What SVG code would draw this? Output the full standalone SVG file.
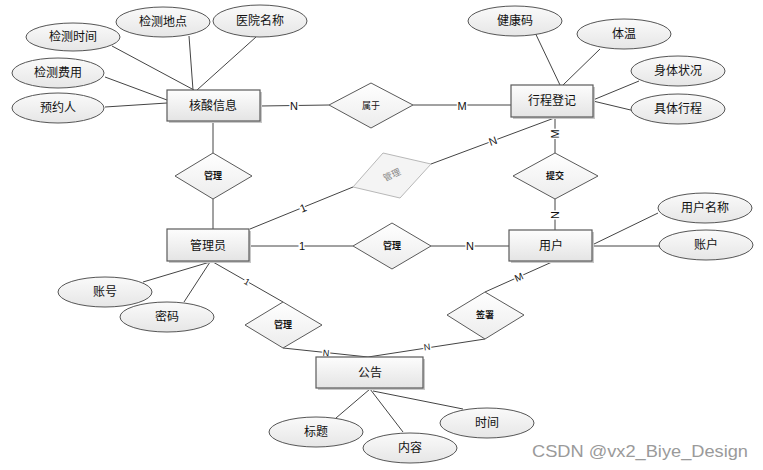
<svg xmlns="http://www.w3.org/2000/svg" width="763" height="470" viewBox="0 0 763 470">
<defs>
<linearGradient id="gr" x1="0" y1="0" x2="0" y2="1"><stop offset="0" stop-color="#fdfdfd"/><stop offset="1" stop-color="#e4e4e4"/></linearGradient>
<linearGradient id="ge" x1="0" y1="0" x2="0" y2="1"><stop offset="0" stop-color="#fafafa"/><stop offset="1" stop-color="#e6e6e6"/></linearGradient>
<linearGradient id="gd" x1="0" y1="0" x2="0" y2="1"><stop offset="0" stop-color="#ffffff"/><stop offset="1" stop-color="#ececec"/></linearGradient>
</defs>
<style>
.ent rect.b{fill:url(#gr);stroke:#5a5a5a;stroke-width:1.2}
.ent rect.s{fill:#c8c8c8;stroke:none}
.att ellipse{fill:url(#ge);stroke:#555;stroke-width:1}
.rel polygon{fill:url(#gd);stroke:#5a5a5a;stroke-width:1}
text{font-family:"Liberation Sans","Noto Sans CJK SC",sans-serif;fill:#111;text-anchor:middle;dominant-baseline:central}
.t{font-size:12px}
.r{font-size:9px;font-weight:bold}
.c{font-size:11px;paint-order:stroke;stroke:#fff;stroke-width:3px}
.lines line{stroke:#444;stroke-width:1}
</style>
<g id="connectors" class="lines">
<line x1="112" y1="46" x2="194" y2="90"/>
<line x1="189" y1="36" x2="193" y2="90"/>
<line x1="256" y1="37" x2="197" y2="90"/>
<line x1="105" y1="77" x2="167" y2="100"/>
<line x1="105" y1="107" x2="167" y2="103"/>
<line x1="260" y1="106" x2="329" y2="105"/>
<line x1="413" y1="105" x2="511" y2="105"/>
<line x1="213" y1="122" x2="213" y2="153"/>
<line x1="213" y1="199" x2="213" y2="229"/>
<line x1="250" y1="229" x2="353" y2="187"/>
<line x1="431" y1="164" x2="557" y2="117"/>
<line x1="555" y1="117" x2="555" y2="153"/>
<line x1="555" y1="199" x2="555" y2="230"/>
<line x1="249" y1="246" x2="353" y2="246"/>
<line x1="431" y1="246" x2="509" y2="246"/>
<line x1="592" y1="245" x2="658" y2="213"/>
<line x1="592" y1="246" x2="660" y2="246"/>
<line x1="552" y1="262" x2="485" y2="292"/>
<line x1="485" y1="339" x2="368" y2="357"/>
<line x1="213" y1="262" x2="283" y2="302"/>
<line x1="283" y1="348" x2="368" y2="357"/>
<line x1="210" y1="262" x2="143" y2="282"/>
<line x1="210" y1="262" x2="184" y2="302"/>
<line x1="530" y1="22" x2="560" y2="85"/>
<line x1="600" y1="49" x2="563" y2="85"/>
<line x1="639" y1="81" x2="593" y2="100"/>
<line x1="639" y1="112" x2="593" y2="101"/>
<line x1="370" y1="389" x2="336" y2="418"/>
<line x1="370" y1="389" x2="403" y2="432"/>
<line x1="373" y1="391" x2="463" y2="409"/>
<text class="c" x="294" y="106">N</text>
<text class="c" x="462" y="106">M</text>
<text class="c" x="303" y="208" transform="rotate(-22 303 208)">1</text>
<text class="c" x="493" y="141" transform="rotate(-20 493 141)">N</text>
<text class="c" x="555" y="134" transform="rotate(-90 555 134)">M</text>
<text class="c" x="555" y="215" transform="rotate(-90 555 215)">N</text>
<text class="c" x="302" y="246">1</text>
<text class="c" x="470" y="246">N</text>
<text class="c" x="519" y="277" style="font-size:10px" transform="rotate(-24 519 277)">M</text>
<text class="c" x="427" y="347" style="font-size:9px" transform="rotate(-8 427 347)">N</text>
<text class="c" x="326" y="353" style="font-size:9px" transform="rotate(6 326 353)">N</text>
<text class="c" x="247" y="282" style="font-size:9px" transform="rotate(30 247 282)">1</text>
</g>
<g id="e-hesuan" class="ent"><rect class="s" x="169" y="92" width="93" height="31"/><rect class="b" x="167" y="90" width="93" height="31"/><text class="t" x="213" y="106">核酸信息</text></g>
<g id="e-xingcheng" class="ent"><rect class="s" x="513" y="87" width="82" height="32"/><rect class="b" x="511" y="85" width="82" height="32"/><text class="t" x="552" y="101">行程登记</text></g>
<g id="e-admin" class="ent"><rect class="s" x="169" y="231" width="82" height="32"/><rect class="b" x="167" y="229" width="82" height="32"/><text class="t" x="208" y="246">管理员</text></g>
<g id="e-user" class="ent"><rect class="s" x="511" y="232" width="83" height="31"/><rect class="b" x="509" y="230" width="83" height="31"/><text class="t" x="551" y="246">用户</text></g>
<g id="e-notice" class="ent"><rect class="s" x="318" y="359" width="107" height="31"/><rect class="b" x="316" y="357" width="107" height="31"/><text class="t" x="370" y="373">公告</text></g>
<g id="r-shuyu" class="rel"><polygon points="329,105 371,83 413,105 371,128"/><text class="r" x="371" y="106" style="font-weight:normal">属于</text></g>
<g id="r-guanli1" class="rel"><polygon points="175,176 213,153 252,176 213,199"/><text class="r" x="213" y="176">管理</text></g>
<g id="r-guanli-gray" class="rel"><polygon points="353,187 383,153 431,164 400,198" style="stroke:#b8b8b8;fill:#f4f4f4"/><text class="r" x="392" y="175" style="fill:#888;font-weight:normal" transform="rotate(-25 392 175)">管理</text></g>
<g id="r-tijiao" class="rel"><polygon points="513,176 555,153 598,176 555,199"/><text class="r" x="555" y="176">提交</text></g>
<g id="r-guanli2" class="rel"><polygon points="353,246 392,223 431,246 392,269"/><text class="r" x="392" y="246">管理</text></g>
<g id="r-guanli3" class="rel"><polygon points="245,325 283,302 322,325 283,348"/><text class="r" x="283" y="325">管理</text></g>
<g id="r-qianshu" class="rel"><polygon points="447,315 485,292 524,315 485,339"/><text class="r" x="485" y="315">签署</text></g>
<g id="a-jcsj" class="att"><ellipse cx="73" cy="37" rx="47" ry="14"/><text class="t" x="73" y="37">检测时间</text></g>
<g id="a-jcdd" class="att"><ellipse cx="163" cy="22" rx="47" ry="15"/><text class="t" x="163" y="22">检测地点</text></g>
<g id="a-yymc" class="att"><ellipse cx="260" cy="21" rx="47" ry="16"/><text class="t" x="260" y="21">医院名称</text></g>
<g id="a-jcfy" class="att"><ellipse cx="58" cy="73" rx="46" ry="15"/><text class="t" x="58" y="73">检测费用</text></g>
<g id="a-yyr" class="att"><ellipse cx="58" cy="108" rx="46" ry="15"/><text class="t" x="58" y="108">预约人</text></g>
<g id="a-jkm" class="att"><ellipse cx="515" cy="21" rx="47" ry="15"/><text class="t" x="515" y="21">健康码</text></g>
<g id="a-tw" class="att"><ellipse cx="624" cy="34" rx="47" ry="15"/><text class="t" x="624" y="34">体温</text></g>
<g id="a-stzk" class="att"><ellipse cx="678" cy="71" rx="47" ry="15"/><text class="t" x="678" y="71">身体状况</text></g>
<g id="a-jtxc" class="att"><ellipse cx="678" cy="109" rx="47" ry="15"/><text class="t" x="678" y="109">具体行程</text></g>
<g id="a-yhmc" class="att"><ellipse cx="705" cy="208" rx="47" ry="15"/><text class="t" x="705" y="208">用户名称</text></g>
<g id="a-zh" class="att"><ellipse cx="706" cy="245" rx="47" ry="15"/><text class="t" x="706" y="245">账户</text></g>
<g id="a-zhanghao" class="att"><ellipse cx="105" cy="292" rx="47" ry="15"/><text class="t" x="105" y="292">账号</text></g>
<g id="a-mima" class="att"><ellipse cx="167" cy="317" rx="47" ry="15"/><text class="t" x="167" y="317">密码</text></g>
<g id="a-bt" class="att"><ellipse cx="316" cy="432" rx="47" ry="15"/><text class="t" x="316" y="432">标题</text></g>
<g id="a-nr" class="att"><ellipse cx="410" cy="448" rx="47" ry="15"/><text class="t" x="410" y="448">内容</text></g>
<g id="a-sj" class="att"><ellipse cx="487" cy="423" rx="47" ry="15"/><text class="t" x="487" y="423">时间</text></g>
<text x="532" y="451" style="font-size:17px;fill:#9a9a9a;text-anchor:start" textLength="216" lengthAdjust="spacingAndGlyphs">CSDN @vx2_Biye_Design</text>
</svg>
